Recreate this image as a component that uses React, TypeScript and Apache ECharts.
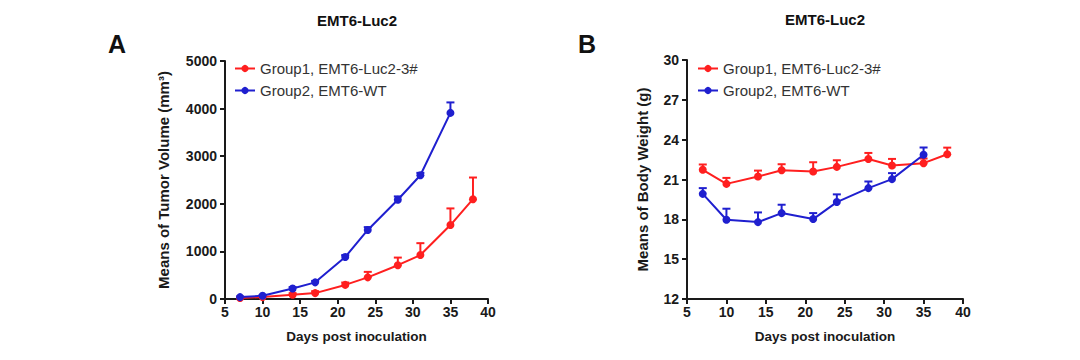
import React, { useEffect, useRef } from "react";
import * as echarts from "echarts";

const daysRed = [7, 10, 14, 17, 21, 24, 28, 31, 35, 38];
const daysBlue = [7, 10, 14, 17, 21, 24, 28, 31, 35];

const tumorRed = [20, 40, 90, 124, 296, 455, 710, 923, 1553, 2097];
const tumorRedErr = [10, 15, 30, 40, 50, 115, 160, 250, 350, 455];
const tumorBlue = [40, 68, 220, 350, 882, 1450, 2085, 2600, 3910];
const tumorBlueErr = [10, 15, 30, 30, 40, 60, 70, 50, 220];

const weightRed = [21.73, 20.67, 21.22, 21.7, 21.6, 21.95, 22.55, 22.05, 22.23, 22.9];
const weightRedErr = [0.4, 0.45, 0.45, 0.45, 0.7, 0.5, 0.45, 0.5, 0.35, 0.5];
const weightBlue = [19.92, 17.97, 17.79, 18.47, 18.02, 19.3, 20.35, 21.03, 22.86];
const weightBlueErr = [0.43, 0.83, 0.73, 0.63, 0.45, 0.58, 0.5, 0.45, 0.55];

const RED = "#ff1f1f";
const BLUE = "#1f1fcf";
const FONT = "Liberation Sans, Arial, sans-serif";
const nameRed = "Group1, EMT6-Luc2-3#";
const nameBlue = "Group2, EMT6-WT";

function pairs(xs: number[], ys: number[]) {
  return xs.map((x, i) => [x, ys[i]]);
}
function errPairs(xs: number[], ys: number[], es: number[]) {
  return xs.map((x, i) => [x, ys[i], es[i]]);
}

function errSeries(idx: number, color: string, data: number[][]) {
  return {
    type: "custom",
    xAxisIndex: idx,
    yAxisIndex: idx,
    silent: true,
    z: 1,
    data,
    renderItem: (params: any, api: any) => {
      const x = api.value(0);
      const y = api.value(1);
      const e = api.value(2);
      const p0 = api.coord([x, y]);
      const p1 = api.coord([x, y + e]);
      return {
        type: "group",
        children: [
          { type: "line", shape: { x1: p0[0], y1: p0[1], x2: p1[0], y2: p1[1] }, style: { stroke: color, lineWidth: 2 } },
          { type: "line", shape: { x1: p1[0] - 4, y1: p1[1], x2: p1[0] + 4, y2: p1[1] }, style: { stroke: color, lineWidth: 2 } },
        ],
      };
    },
  };
}

function lineSeries(idx: number, name: string, color: string, data: number[][]) {
  return {
    type: "line",
    name,
    xAxisIndex: idx,
    yAxisIndex: idx,
    data,
    symbol: "circle",
    symbolSize: 8,
    z: 3,
    lineStyle: { color, width: 2 },
    itemStyle: { color },
  };
}

const axisCommon = {
  axisLine: { show: true, lineStyle: { color: "#1a1a1a", width: 2 } },
  axisTick: { show: true, length: 5, lineStyle: { color: "#1a1a1a", width: 2 } },
  splitLine: { show: false },
  axisLabel: { color: "#1a1a1a", fontSize: 14, fontWeight: "bold", fontFamily: FONT, formatter: (v: number) => String(v) },
  nameTextStyle: { color: "#1a1a1a", fontSize: 15, fontWeight: "bold", fontFamily: FONT },
};

const legendCommon = {
  orient: "vertical",
  top: 61,
  padding: 0,
  itemWidth: 20,
  itemHeight: 9,
  itemGap: 7,
  textStyle: { fontSize: 15, color: "#333", fontFamily: FONT },
  data: [nameRed, nameBlue],
};

export default function App() {
  const ref = useRef<HTMLDivElement>(null);
  useEffect(() => {
    const chart = echarts.init(ref.current!, null, { renderer: "svg" });
    const xAxisFor = (gi: number) => ({
      ...axisCommon,
      type: "value",
      gridIndex: gi,
      min: 5,
      max: 40,
      interval: 5,
      name: "Days post inoculation",
      nameLocation: "middle",
      nameGap: 30,
      nameTextStyle: { ...axisCommon.nameTextStyle, fontSize: 13.5 },
      axisLabel: { ...axisCommon.axisLabel, margin: 6 },
    });
    chart.setOption({
      animation: false,
      backgroundColor: "#ffffff",
      textStyle: { fontFamily: FONT },
      grid: [
        { left: 225, top: 61, width: 263, height: 238 },
        { left: 687, top: 60, width: 276, height: 239 },
      ],
      xAxis: [xAxisFor(0), xAxisFor(1)],
      yAxis: [
        {
          ...axisCommon,
          type: "value",
          gridIndex: 0,
          min: 0,
          max: 5000,
          interval: 1000,
          name: "Means of Tumor Volume (mm³)",
          nameLocation: "middle",
          nameGap: 54,
        },
        {
          ...axisCommon,
          type: "value",
          gridIndex: 1,
          min: 12,
          max: 30,
          interval: 3,
          name: "Means of Body Weight (g)",
          nameLocation: "middle",
          nameGap: 37,
        },
      ],
      legend: [
        { ...legendCommon, left: 234 },
        { ...legendCommon, left: 697 },
      ],
      graphic: [
        { type: "text", left: 108, top: 31, style: { text: "A", font: `bold 25px ${FONT}`, fill: "#111" } },
        { type: "text", left: 578, top: 31, style: { text: "B", font: `bold 25px ${FONT}`, fill: "#111" } },
        { type: "text", x: 357, y: 20, style: { text: "EMT6-Luc2", font: `bold 15px ${FONT}`, fill: "#111", align: "center", verticalAlign: "middle" } },
        { type: "text", x: 825, y: 19, style: { text: "EMT6-Luc2", font: `bold 15px ${FONT}`, fill: "#111", align: "center", verticalAlign: "middle" } },
      ],
      series: [
        errSeries(0, RED, errPairs(daysRed, tumorRed, tumorRedErr)),
        errSeries(0, BLUE, errPairs(daysBlue, tumorBlue, tumorBlueErr)),
        lineSeries(0, nameRed, RED, pairs(daysRed, tumorRed)),
        lineSeries(0, nameBlue, BLUE, pairs(daysBlue, tumorBlue)),
        errSeries(1, RED, errPairs(daysRed, weightRed, weightRedErr)),
        errSeries(1, BLUE, errPairs(daysBlue, weightBlue, weightBlueErr)),
        lineSeries(1, nameRed, RED, pairs(daysRed, weightRed)),
        lineSeries(1, nameBlue, BLUE, pairs(daysBlue, weightBlue)),
      ],
    });
    return () => chart.dispose();
  }, []);
  return (
    <div
      ref={ref}
      style={{ position: "fixed", left: 0, top: 0, width: 1080, height: 360, background: "#fff" }}
    />
  );
}
